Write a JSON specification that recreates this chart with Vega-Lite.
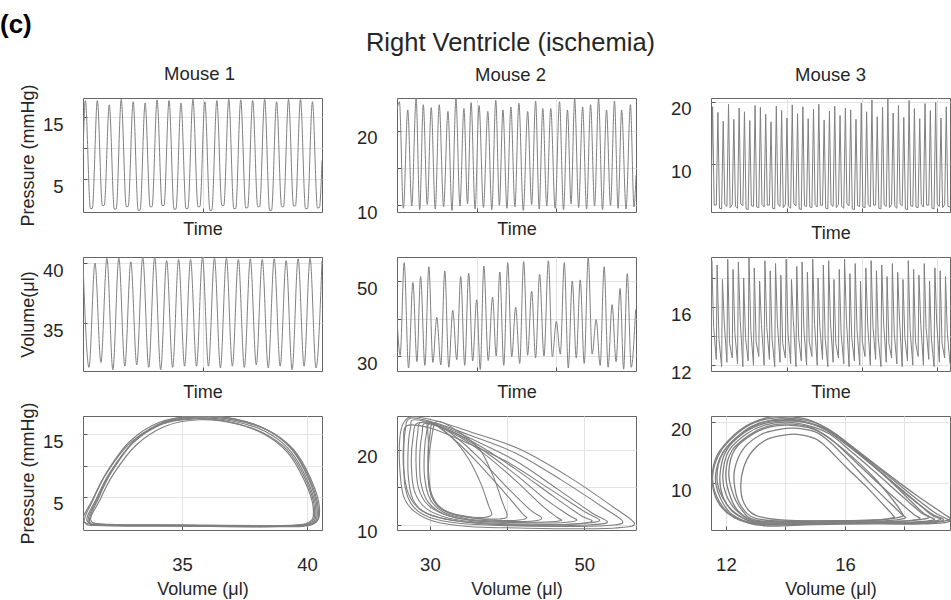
{
"$schema": "https://vega.github.io/schema/vega-lite/v6.json",
"padding": {"left": 0, "top": 11, "right": 0, "bottom": 0},
"title": {"text": "(c)", "anchor": "start", "frame": "group", "fontSize": 26, "fontWeight": "bold", "color": "#000", "dx": -83, "offset": -7},
"config": {
  "font": "Liberation Sans",
  "view": {"stroke": "#666666", "strokeWidth": 1},
  "axis": {"grid": true, "gridColor": "#e3e3e3", "domain": false, "ticks": true, "tickSize": -4, "tickColor": "#555555", "labelFontSize": 18.5, "labelColor": "#262626", "titleFontSize": 18, "titleFontWeight": "normal", "titleColor": "#262626"},
  "axisY": {"labelPadding": 24, "titlePadding": 5, "labelOffset": 7},
  "axisX": {"labelPadding": 29, "titlePadding": 7},
  "title": {"fontSize": 18.5, "fontWeight": "normal", "color": "#262626", "offset": 14},
  "line": {"stroke": "#808080", "strokeWidth": 1}
},
"datasets": {
"m1p": [{"t":0,"v":9},{"t":0.2,"v":17.7},{"t":0.62,"v":0.3},{"t":0.78,"v":0.35},{"t":1.2,"v":17.7},{"t":1.62,"v":0.8},{"t":1.78,"v":0.85},{"t":2.2,"v":17.0},{"t":2.62,"v":0.2},{"t":2.78,"v":0.25},{"t":3.2,"v":17.9},{"t":3.62,"v":0.6},{"t":3.78,"v":0.65},{"t":4.2,"v":17.5},{"t":4.62,"v":0.0},{"t":4.78,"v":0.05},{"t":5.2,"v":17.3},{"t":5.62,"v":0.6},{"t":5.78,"v":0.6},{"t":6.2,"v":17.8},{"t":6.62,"v":0.8},{"t":6.78,"v":0.8},{"t":7.2,"v":17.7},{"t":7.62,"v":0.2},{"t":7.78,"v":0.25},{"t":8.2,"v":17.3},{"t":8.62,"v":0.3},{"t":8.78,"v":0.35},{"t":9.2,"v":17.9},{"t":9.62,"v":0.6},{"t":9.78,"v":0.6},{"t":10.2,"v":17.5},{"t":10.62,"v":0.0},{"t":10.78,"v":0.05},{"t":11.2,"v":17.7},{"t":11.62,"v":0.8},{"t":11.78,"v":0.8},{"t":12.2,"v":17.9},{"t":12.62,"v":0.3},{"t":12.78,"v":0.3},{"t":13.2,"v":17.8},{"t":13.62,"v":0.4},{"t":13.78,"v":0.45},{"t":14.2,"v":17.7},{"t":14.62,"v":0.6},{"t":14.78,"v":0.6},{"t":15.2,"v":17.9},{"t":15.62,"v":0.0},{"t":15.78,"v":0.05},{"t":16.2,"v":17.5},{"t":16.62,"v":0.6},{"t":16.78,"v":0.6},{"t":17.2,"v":17.9},{"t":17.62,"v":0.7},{"t":17.78,"v":0.75},{"t":18.2,"v":17.9},{"t":18.62,"v":0.3},{"t":18.78,"v":0.3},{"t":19.2,"v":17.5},{"t":19.62,"v":0.4},{"t":19.78,"v":0.45},{"t":20,"v":8}],
"m1v": [{"t":0,"v":40.0},{"t":0.5,"v":31.3},{"t":1,"v":40.0},{"t":1.5,"v":31.7},{"t":2,"v":40.4},{"t":2.5,"v":31.1},{"t":3,"v":40.4},{"t":3.5,"v":31.4},{"t":4,"v":40.1},{"t":4.5,"v":31.5},{"t":5,"v":40.5},{"t":5.5,"v":31.3},{"t":6,"v":40.5},{"t":6.5,"v":31.1},{"t":7,"v":40.2},{"t":7.5,"v":31.3},{"t":8,"v":40.3},{"t":8.5,"v":31.4},{"t":9,"v":40.3},{"t":9.5,"v":31.4},{"t":10,"v":40.5},{"t":10.5,"v":31.4},{"t":11,"v":40.4},{"t":11.5,"v":31.25},{"t":12,"v":40.4},{"t":12.5,"v":31.4},{"t":13,"v":40.3},{"t":13.5,"v":31.3},{"t":14,"v":40.35},{"t":14.5,"v":31.5},{"t":15,"v":40.3},{"t":15.5,"v":31.25},{"t":16,"v":40.35},{"t":16.5,"v":31.4},{"t":17,"v":40.2},{"t":17.5,"v":31.1},{"t":18,"v":40.35},{"t":18.5,"v":31.4},{"t":19,"v":40.4},{"t":19.5,"v":31.25},{"t":20,"v":40.2}],
"m2p": [{"t":0,"v":22.9},{"t":0.3,"v":23.9},{"t":0.8,"v":9.6},{"t":1.35,"v":22.8},{"t":1.85,"v":9.9},{"t":2.4,"v":24.3},{"t":2.85,"v":9.4},{"t":3.3,"v":23.5},{"t":3.8,"v":10.1},{"t":4.3,"v":23.1},{"t":4.8,"v":9.5},{"t":5.3,"v":23.5},{"t":5.85,"v":9.8},{"t":6.4,"v":22.6},{"t":6.9,"v":9.3},{"t":7.4,"v":24.3},{"t":7.9,"v":9.9},{"t":8.4,"v":23.0},{"t":8.85,"v":10.2},{"t":9.3,"v":23.8},{"t":9.8,"v":9.5},{"t":10.3,"v":23.4},{"t":10.85,"v":9.7},{"t":11.4,"v":22.6},{"t":11.9,"v":9.4},{"t":12.4,"v":24.1},{"t":12.85,"v":10.0},{"t":13.3,"v":22.8},{"t":13.8,"v":9.6},{"t":14.3,"v":23.2},{"t":14.8,"v":9.8},{"t":15.3,"v":23.7},{"t":15.85,"v":9.3},{"t":16.4,"v":22.6},{"t":16.9,"v":10.1},{"t":17.4,"v":24.0},{"t":17.85,"v":9.5},{"t":18.3,"v":23.0},{"t":18.8,"v":9.9},{"t":19.3,"v":23.0},{"t":19.85,"v":9.6},{"t":20.4,"v":23.9},{"t":20.9,"v":9.4},{"t":21.4,"v":22.8},{"t":21.85,"v":10.2},{"t":22.3,"v":24.3},{"t":22.8,"v":9.7},{"t":23.3,"v":23.2},{"t":23.8,"v":9.5},{"t":24.3,"v":23.5},{"t":24.8,"v":9.9},{"t":25.3,"v":24.3},{"t":25.8,"v":9.4},{"t":26.3,"v":22.8},{"t":26.8,"v":10.0},{"t":27.3,"v":24.0},{"t":27.75,"v":9.6},{"t":28.2,"v":22.8},{"t":28.75,"v":9.5},{"t":29.3,"v":23.5},{"t":29.75,"v":9.8},{"t":30,"v":14}],
"m2v": [{"t":0,"v":40},{"t":0.4,"v":30.2},{"t":0.9,"v":54.9},{"t":1.45,"v":26.8},{"t":2.0,"v":49.6},{"t":2.5,"v":28.5},{"t":2.96,"v":51.2},{"t":3.5,"v":27.5},{"t":4.0,"v":53.8},{"t":4.5,"v":28.3},{"t":5.0,"v":40.3},{"t":5.5,"v":27.6},{"t":6.0,"v":52.7},{"t":6.5,"v":27.0},{"t":7.0,"v":42.2},{"t":7.5,"v":29.0},{"t":8.0,"v":51.2},{"t":8.5,"v":27.5},{"t":9.0,"v":52.1},{"t":9.5,"v":28.7},{"t":10.0,"v":45.0},{"t":10.45,"v":26.4},{"t":10.9,"v":54.0},{"t":11.45,"v":28.8},{"t":12.0,"v":45.7},{"t":12.45,"v":30.0},{"t":12.9,"v":52.4},{"t":13.4,"v":27.5},{"t":13.9,"v":54.9},{"t":14.4,"v":29.8},{"t":14.9,"v":43.0},{"t":15.4,"v":28.0},{"t":15.9,"v":55.2},{"t":16.4,"v":30.2},{"t":16.9,"v":47.3},{"t":17.4,"v":29.5},{"t":17.9,"v":51.8},{"t":18.45,"v":30.0},{"t":19.0,"v":55.4},{"t":19.5,"v":29.8},{"t":20.0,"v":39.2},{"t":20.5,"v":30.5},{"t":21.0,"v":54.9},{"t":21.5,"v":26.8},{"t":22.0,"v":50.0},{"t":22.5,"v":29.5},{"t":23.0,"v":50.3},{"t":23.5,"v":28.0},{"t":24.0,"v":56.3},{"t":24.5,"v":30.5},{"t":25.0,"v":39.7},{"t":25.5,"v":27.5},{"t":26.0,"v":53.8},{"t":26.5,"v":27.0},{"t":27.0,"v":43.7},{"t":27.5,"v":28.5},{"t":28.0,"v":48.0},{"t":28.45,"v":26.5},{"t":28.9,"v":52.0},{"t":29.4,"v":27.0},{"t":29.95,"v":42.4}],
"m3p": [{"t":0,"v":3.2},{"t":0.3,"v":19.2},{"t":0.6,"v":3.5},{"t":1,"v":3.5},{"t":1.3,"v":18.3},{"t":1.6,"v":3.0},{"t":2,"v":2.9},{"t":2.3,"v":16.9},{"t":2.6,"v":3.6},{"t":3,"v":3.3},{"t":3.3,"v":19.6},{"t":3.6,"v":3.1},{"t":4,"v":3.6},{"t":4.3,"v":17.2},{"t":4.6,"v":3.3},{"t":5,"v":3.0},{"t":5.3,"v":19.0},{"t":5.6,"v":3.7},{"t":6,"v":3.4},{"t":6.3,"v":18.4},{"t":6.6,"v":2.9},{"t":7,"v":2.8},{"t":7.3,"v":17.0},{"t":7.6,"v":3.4},{"t":8,"v":3.3},{"t":8.3,"v":19.4},{"t":8.6,"v":3.2},{"t":9,"v":3.1},{"t":9.3,"v":19.1},{"t":9.6,"v":3.6},{"t":10,"v":3.2},{"t":10.3,"v":18.0},{"t":10.6,"v":3.5},{"t":11,"v":3.5},{"t":11.3,"v":16.8},{"t":11.6,"v":3.0},{"t":12,"v":2.9},{"t":12.3,"v":19.3},{"t":12.6,"v":3.6},{"t":13,"v":3.3},{"t":13.3,"v":18.6},{"t":13.6,"v":3.1},{"t":14,"v":3.6},{"t":14.3,"v":17.4},{"t":14.6,"v":3.3},{"t":15,"v":3.0},{"t":15.3,"v":19.5},{"t":15.6,"v":3.7},{"t":16,"v":3.4},{"t":16.3,"v":18.1},{"t":16.6,"v":2.9},{"t":17,"v":2.8},{"t":17.3,"v":19.2},{"t":17.6,"v":3.4},{"t":18,"v":3.3},{"t":18.3,"v":17.3},{"t":18.6,"v":3.2},{"t":19,"v":3.1},{"t":19.3,"v":18.8},{"t":19.6,"v":3.6},{"t":20,"v":3.2},{"t":20.3,"v":19.6},{"t":20.6,"v":3.5},{"t":21,"v":3.5},{"t":21.3,"v":17.1},{"t":21.6,"v":3.0},{"t":22,"v":2.9},{"t":22.3,"v":18.5},{"t":22.6,"v":3.6},{"t":23,"v":3.3},{"t":23.3,"v":19.3},{"t":23.6,"v":3.1},{"t":24,"v":3.6},{"t":24.3,"v":17.8},{"t":24.6,"v":3.3},{"t":25,"v":3.0},{"t":25.3,"v":19.0},{"t":25.6,"v":3.7},{"t":26,"v":3.4},{"t":26.3,"v":18.7},{"t":26.6,"v":2.9},{"t":27,"v":2.8},{"t":27.3,"v":17.2},{"t":27.6,"v":3.4},{"t":28,"v":3.3},{"t":28.3,"v":19.8},{"t":28.6,"v":3.2},{"t":29,"v":3.1},{"t":29.3,"v":18.4},{"t":29.6,"v":3.6},{"t":30,"v":3.2},{"t":30.3,"v":20.3},{"t":30.6,"v":3.5},{"t":31,"v":3.5},{"t":31.3,"v":17.6},{"t":31.6,"v":3.0},{"t":32,"v":2.9},{"t":32.3,"v":19.1},{"t":32.6,"v":3.6},{"t":33,"v":3.3},{"t":33.3,"v":20.5},{"t":33.6,"v":3.1},{"t":34,"v":3.6},{"t":34.3,"v":18.2},{"t":34.6,"v":3.3},{"t":35,"v":3.0},{"t":35.3,"v":19.4},{"t":35.6,"v":3.7},{"t":36,"v":3.4},{"t":36.3,"v":17.5},{"t":36.6,"v":2.9},{"t":37,"v":2.8},{"t":37.3,"v":20.2},{"t":37.6,"v":3.4},{"t":38,"v":3.3},{"t":38.3,"v":18.9},{"t":38.6,"v":3.2},{"t":39,"v":3.1},{"t":39.3,"v":17.3},{"t":39.6,"v":3.6},{"t":40,"v":3.2},{"t":40.3,"v":19.7},{"t":40.6,"v":3.5},{"t":41,"v":3.5},{"t":41.3,"v":18.6},{"t":41.6,"v":3.0},{"t":42,"v":2.9},{"t":42.3,"v":19.9},{"t":42.6,"v":3.6},{"t":43,"v":3.3},{"t":43.3,"v":17.4},{"t":43.6,"v":3.1},{"t":44,"v":3.6},{"t":44.3,"v":19.2},{"t":44.6,"v":3.3},{"t":45,"v":3.2}],
"m3v": [{"t":0,"v":12.0},{"t":0.15,"v":19.2},{"t":0.5,"v":14.6},{"t":1,"v":12.4},{"t":1.15,"v":18.9},{"t":1.5,"v":13.8},{"t":2,"v":11.9},{"t":2.15,"v":17.9},{"t":2.5,"v":14.9},{"t":3,"v":12.2},{"t":3.15,"v":19.3},{"t":3.5,"v":13.5},{"t":4,"v":12.5},{"t":4.15,"v":18.6},{"t":4.5,"v":14.2},{"t":5,"v":12.1},{"t":5.15,"v":19.1},{"t":5.5,"v":15.1},{"t":6,"v":11.9},{"t":6.15,"v":18.0},{"t":6.5,"v":13.9},{"t":7,"v":12.3},{"t":7.15,"v":19.4},{"t":7.5,"v":14.4},{"t":8,"v":12.0},{"t":8.15,"v":18.7},{"t":8.5,"v":13.6},{"t":9,"v":12.6},{"t":9.15,"v":17.8},{"t":9.5,"v":14.8},{"t":10,"v":12.0},{"t":10.15,"v":19.2},{"t":10.5,"v":14.6},{"t":11,"v":12.4},{"t":11.15,"v":18.5},{"t":11.5,"v":13.8},{"t":12,"v":11.9},{"t":12.15,"v":19.0},{"t":12.5,"v":14.9},{"t":13,"v":12.2},{"t":13.15,"v":18.2},{"t":13.5,"v":13.5},{"t":14,"v":12.5},{"t":14.15,"v":19.3},{"t":14.5,"v":14.2},{"t":15,"v":12.1},{"t":15.15,"v":17.9},{"t":15.5,"v":15.1},{"t":16,"v":11.9},{"t":16.15,"v":18.8},{"t":16.5,"v":13.9},{"t":17,"v":12.3},{"t":17.15,"v":19.1},{"t":17.5,"v":14.4},{"t":18,"v":12.0},{"t":18.15,"v":18.4},{"t":18.5,"v":13.6},{"t":19,"v":12.6},{"t":19.15,"v":19.3},{"t":19.5,"v":14.8},{"t":20,"v":12.0},{"t":20.15,"v":18.0},{"t":20.5,"v":14.6},{"t":21,"v":12.4},{"t":21.15,"v":18.9},{"t":21.5,"v":13.8},{"t":22,"v":11.9},{"t":22.15,"v":19.2},{"t":22.5,"v":14.9},{"t":23,"v":12.2},{"t":23.15,"v":17.9},{"t":23.5,"v":13.5},{"t":24,"v":12.5},{"t":24.15,"v":18.6},{"t":24.5,"v":14.2},{"t":25,"v":12.1},{"t":25.15,"v":19.3},{"t":25.5,"v":15.1},{"t":26,"v":11.9},{"t":26.15,"v":18.3},{"t":26.5,"v":13.9},{"t":27,"v":12.3},{"t":27.15,"v":19.0},{"t":27.5,"v":14.4},{"t":28,"v":12.0},{"t":28.15,"v":17.8},{"t":28.5,"v":13.6},{"t":29,"v":12.6},{"t":29.15,"v":18.7},{"t":29.5,"v":14.8},{"t":30,"v":12.0},{"t":30.15,"v":19.2},{"t":30.5,"v":14.6},{"t":31,"v":12.4},{"t":31.15,"v":18.5},{"t":31.5,"v":13.8},{"t":32,"v":11.9},{"t":32.15,"v":18.9},{"t":32.5,"v":14.9},{"t":33,"v":12.2},{"t":33.15,"v":18.1},{"t":33.5,"v":13.5},{"t":34,"v":12.5},{"t":34.15,"v":19.0},{"t":34.5,"v":14.2},{"t":35,"v":12.1},{"t":35.15,"v":18.4},{"t":35.5,"v":15.1},{"t":36,"v":11.9},{"t":36.15,"v":17.9},{"t":36.5,"v":13.9},{"t":37,"v":12.3},{"t":37.15,"v":19.2},{"t":37.5,"v":14.4},{"t":38,"v":12.0},{"t":38.15,"v":18.6},{"t":38.5,"v":13.6},{"t":39,"v":12.6},{"t":39.15,"v":18.2},{"t":39.5,"v":14.8},{"t":40,"v":12.0},{"t":40.15,"v":19.0},{"t":40.5,"v":14.6},{"t":41,"v":12.4},{"t":41.15,"v":17.8},{"t":41.5,"v":13.8},{"t":42,"v":11.9},{"t":42.15,"v":18.7},{"t":42.5,"v":14.9},{"t":43,"v":12.2},{"t":43.15,"v":18.5},{"t":43.5,"v":13.5},{"t":44,"v":12.5},{"t":44.15,"v":18.1},{"t":44.5,"v":14.2},{"t":45,"v":12.1}],
"m1pv": [
{"c":1,"V":31.2,"P":1.2},{"c":1,"V":31.55,"P":4.5},{"c":1,"V":32.1,"P":8.8},{"c":1,"V":33.0,"P":13.5},{"c":1,"V":34.2,"P":16.6},{"c":1,"V":35.6,"P":17.6},{"c":1,"V":37.0,"P":17.1},{"c":1,"V":38.3,"P":15.5},{"c":1,"V":39.3,"P":12.5},{"c":1,"V":40.0,"P":7.8},{"c":1,"V":40.35,"P":3.2},{"c":1,"V":40.1,"P":0.7},{"c":1,"V":38.5,"P":0.35},{"c":1,"V":35.0,"P":0.45},{"c":1,"V":32.0,"P":0.55},
{"c":2,"V":31.1,"P":1.0},{"c":2,"V":31.45,"P":4.6},{"c":2,"V":32.0,"P":9.0},{"c":2,"V":32.9,"P":13.8},{"c":2,"V":34.1,"P":16.9},{"c":2,"V":35.6,"P":17.9},{"c":2,"V":37.1,"P":17.4},{"c":2,"V":38.4,"P":15.7},{"c":2,"V":39.4,"P":12.6},{"c":2,"V":40.1,"P":7.9},{"c":2,"V":40.45,"P":3.1},{"c":2,"V":40.2,"P":0.6},{"c":2,"V":38.5,"P":0.25},{"c":2,"V":35.0,"P":0.35},{"c":2,"V":31.9,"P":0.45},
{"c":3,"V":31.35,"P":1.3},{"c":3,"V":31.7,"P":4.4},{"c":3,"V":32.25,"P":8.6},{"c":3,"V":33.15,"P":13.2},{"c":3,"V":34.35,"P":16.3},{"c":3,"V":35.7,"P":17.3},{"c":3,"V":37.0,"P":16.8},{"c":3,"V":38.2,"P":15.2},{"c":3,"V":39.2,"P":12.2},{"c":3,"V":39.9,"P":7.6},{"c":3,"V":40.25,"P":3.3},{"c":3,"V":40.0,"P":0.8},{"c":3,"V":38.4,"P":0.45},{"c":3,"V":35.0,"P":0.55},{"c":3,"V":32.1,"P":0.65},
{"c":4,"V":31.25,"P":1.1},{"c":4,"V":31.6,"P":4.6},{"c":4,"V":32.15,"P":8.9},{"c":4,"V":33.05,"P":13.7},{"c":4,"V":34.25,"P":16.8},{"c":4,"V":35.6,"P":17.75},{"c":4,"V":37.1,"P":17.25},{"c":4,"V":38.45,"P":15.6},{"c":4,"V":39.45,"P":12.6},{"c":4,"V":40.15,"P":7.9},{"c":4,"V":40.5,"P":3.2},{"c":4,"V":40.2,"P":0.7},{"c":4,"V":38.6,"P":0.35},{"c":4,"V":35.0,"P":0.45},{"c":4,"V":32.0,"P":0.55},
{"c":5,"V":31.05,"P":1.25},{"c":5,"V":31.4,"P":4.4},{"c":5,"V":31.95,"P":8.6},{"c":5,"V":32.85,"P":13.3},{"c":5,"V":34.05,"P":16.45},{"c":5,"V":35.5,"P":17.45},{"c":5,"V":36.9,"P":16.95},{"c":5,"V":38.2,"P":15.3},{"c":5,"V":39.25,"P":12.3},{"c":5,"V":39.95,"P":7.7},{"c":5,"V":40.3,"P":3.2},{"c":5,"V":40.05,"P":0.75},{"c":5,"V":38.5,"P":0.4},{"c":5,"V":35.0,"P":0.5},{"c":5,"V":31.9,"P":0.6},
{"c":6,"V":31.3,"P":1.1},{"c":6,"V":31.65,"P":4.7},{"c":6,"V":32.2,"P":9.1},{"c":6,"V":33.1,"P":13.9},{"c":6,"V":34.3,"P":17.0},{"c":6,"V":35.7,"P":17.95},{"c":6,"V":37.1,"P":17.45},{"c":6,"V":38.35,"P":15.8},{"c":6,"V":39.35,"P":12.8},{"c":6,"V":40.05,"P":8.0},{"c":6,"V":40.4,"P":3.3},{"c":6,"V":40.15,"P":0.65},{"c":6,"V":38.5,"P":0.3},{"c":6,"V":35.0,"P":0.4},{"c":6,"V":32.0,"P":0.5}],
"m2pv": [
{"c":1,"V":27.8,"P":24.4},{"c":1,"V":31,"P":23.8},{"c":1,"V":35.2,"P":22.4},{"c":1,"V":41.6,"P":20.1},{"c":1,"V":48,"P":16.4},{"c":1,"V":53.6,"P":12.5},{"c":1,"V":56.5,"P":10.2},{"c":1,"V":54,"P":9.6},{"c":1,"V":48,"P":9.5},{"c":1,"V":41.6,"P":9.6},{"c":1,"V":35,"P":9.8},{"c":1,"V":30.5,"P":10.5},{"c":1,"V":28.0,"P":11.8},{"c":1,"V":26.6,"P":13.8},{"c":1,"V":26.1,"P":17.5},{"c":1,"V":26.1,"P":21.5},{"c":1,"V":26.6,"P":23.6},
{"c":2,"V":27.5,"P":24.2},{"c":2,"V":31,"P":23.5},{"c":2,"V":35,"P":22.0},{"c":2,"V":41,"P":19.6},{"c":2,"V":47,"P":16.0},{"c":2,"V":52.5,"P":12.3},{"c":2,"V":55,"P":10.4},{"c":2,"V":52.5,"P":9.9},{"c":2,"V":46,"P":9.8},{"c":2,"V":40,"P":9.9},{"c":2,"V":34,"P":10.2},{"c":2,"V":30,"P":11.0},{"c":2,"V":27.8,"P":12.5},{"c":2,"V":26.8,"P":15},{"c":2,"V":26.6,"P":19},{"c":2,"V":26.8,"P":22.5},
{"c":3,"V":28,"P":24.0},{"c":3,"V":31.5,"P":23.2},{"c":3,"V":35.5,"P":21.4},{"c":3,"V":41,"P":18.6},{"c":3,"V":46.5,"P":14.8},{"c":3,"V":51,"P":11.6},{"c":3,"V":53,"P":10.4},{"c":3,"V":50.5,"P":10.0},{"c":3,"V":44,"P":9.9},{"c":3,"V":38,"P":10.1},{"c":3,"V":33,"P":10.6},{"c":3,"V":29.5,"P":11.6},{"c":3,"V":27.8,"P":13.4},{"c":3,"V":27.2,"P":16.5},{"c":3,"V":27.2,"P":20.5},{"c":3,"V":27.5,"P":23},
{"c":4,"V":28.5,"P":23.6},{"c":4,"V":32,"P":22.8},{"c":4,"V":36,"P":20.8},{"c":4,"V":41,"P":17.5},{"c":4,"V":46,"P":13.8},{"c":4,"V":49.5,"P":11.3},{"c":4,"V":51,"P":10.5},{"c":4,"V":48.5,"P":10.1},{"c":4,"V":43,"P":10.1},{"c":4,"V":37,"P":10.3},{"c":4,"V":32.5,"P":10.9},{"c":4,"V":29.5,"P":12.2},{"c":4,"V":28,"P":14.5},{"c":4,"V":27.6,"P":18},{"c":4,"V":27.8,"P":21.5},
{"c":5,"V":29,"P":23.7},{"c":5,"V":32.5,"P":22.6},{"c":5,"V":36.5,"P":20.2},{"c":5,"V":41,"P":16.8},{"c":5,"V":45,"P":13.4},{"c":5,"V":48,"P":11.3},{"c":5,"V":49,"P":10.6},{"c":5,"V":47,"P":10.3},{"c":5,"V":42,"P":10.3},{"c":5,"V":36.5,"P":10.5},{"c":5,"V":32.5,"P":11.2},{"c":5,"V":29.8,"P":12.6},{"c":5,"V":28.5,"P":15},{"c":5,"V":28.2,"P":18.5},{"c":5,"V":28.4,"P":22},
{"c":6,"V":29.5,"P":23.5},{"c":6,"V":33,"P":22.2},{"c":6,"V":37,"P":19.5},{"c":6,"V":41,"P":16},{"c":6,"V":44.5,"P":12.6},{"c":6,"V":46.5,"P":11.0},{"c":6,"V":47,"P":10.6},{"c":6,"V":45,"P":10.4},{"c":6,"V":40,"P":10.4},{"c":6,"V":35.5,"P":10.6},{"c":6,"V":32,"P":11.4},{"c":6,"V":29.8,"P":13.0},{"c":6,"V":28.8,"P":15.8},{"c":6,"V":28.7,"P":19.5},{"c":6,"V":29,"P":22.2},
{"c":7,"V":30,"P":23.7},{"c":7,"V":33,"P":22.0},{"c":7,"V":36.5,"P":18.8},{"c":7,"V":40,"P":15.0},{"c":7,"V":43,"P":12.0},{"c":7,"V":44.5,"P":10.9},{"c":7,"V":43,"P":10.5},{"c":7,"V":39,"P":10.5},{"c":7,"V":35,"P":10.8},{"c":7,"V":31.8,"P":11.7},{"c":7,"V":30,"P":13.5},{"c":7,"V":29.3,"P":16.5},{"c":7,"V":29.3,"P":20},{"c":7,"V":29.6,"P":22.5},
{"c":8,"V":30,"P":23.6},{"c":8,"V":33,"P":21.5},{"c":8,"V":36,"P":18.5},{"c":8,"V":39.5,"P":14.5},{"c":8,"V":42,"P":11.5},{"c":8,"V":42.5,"P":10.9},{"c":8,"V":41,"P":10.6},{"c":8,"V":37.5,"P":10.7},{"c":8,"V":34,"P":11.2},{"c":8,"V":31.5,"P":12.2},{"c":8,"V":30.2,"P":14.2},{"c":8,"V":29.8,"P":17.5},{"c":8,"V":29.8,"P":21},
{"c":9,"V":31,"P":23.8},{"c":9,"V":34,"P":22.2},{"c":9,"V":36.5,"P":20.0},{"c":9,"V":38.2,"P":16.5},{"c":9,"V":39.4,"P":13.0},{"c":9,"V":40,"P":11.2},{"c":9,"V":39,"P":10.8},{"c":9,"V":36,"P":10.9},{"c":9,"V":33,"P":11.4},{"c":9,"V":31,"P":12.5},{"c":9,"V":30,"P":14.5},{"c":9,"V":29.8,"P":17.8},{"c":9,"V":30.2,"P":21.5},
{"c":10,"V":30.5,"P":23.4},{"c":10,"V":33,"P":21.5},{"c":10,"V":35,"P":18.8},{"c":10,"V":36.6,"P":15.5},{"c":10,"V":37.6,"P":12.6},{"c":10,"V":38,"P":11.4},{"c":10,"V":37,"P":11.0},{"c":10,"V":34.5,"P":11.2},{"c":10,"V":32,"P":11.9},{"c":10,"V":30.4,"P":13.5},{"c":10,"V":29.8,"P":16},{"c":10,"V":29.8,"P":19.5},{"c":10,"V":30,"P":22},
{"c":11,"V":27,"P":23.2},{"c":11,"V":30,"P":22.9},{"c":11,"V":34,"P":21.3},{"c":11,"V":40,"P":18.4},{"c":11,"V":45.5,"P":14.8},{"c":11,"V":50,"P":11.8},{"c":11,"V":52,"P":10.6},{"c":11,"V":49.5,"P":10.2},{"c":11,"V":43,"P":10.0},{"c":11,"V":37,"P":10.2},{"c":11,"V":32,"P":10.8},{"c":11,"V":28.8,"P":12.0},{"c":11,"V":27.2,"P":14.2},{"c":11,"V":26.6,"P":17.5},{"c":11,"V":26.6,"P":21}],
"m3pv": [
{"c":1,"V":13.6,"P":20.9},{"c":1,"V":14.6,"P":20.6},{"c":1,"V":15.3,"P":19.2},{"c":1,"V":16.2,"P":16.0},{"c":1,"V":17.2,"P":12.2},{"c":1,"V":18.2,"P":8.2},{"c":1,"V":19.0,"P":5.2},{"c":1,"V":19.5,"P":3.7},{"c":1,"V":18.6,"P":3.3},{"c":1,"V":17.0,"P":3.3},{"c":1,"V":15.0,"P":3.2},{"c":1,"V":13.3,"P":3.0},{"c":1,"V":12.3,"P":4.3},{"c":1,"V":11.8,"P":6.8},{"c":1,"V":11.55,"P":10.5},{"c":1,"V":11.7,"P":14.5},{"c":1,"V":12.3,"P":18.0},{"c":1,"V":12.9,"P":19.9},
{"c":2,"V":13.8,"P":20.5},{"c":2,"V":14.7,"P":20.0},{"c":2,"V":15.4,"P":18.6},{"c":2,"V":16.3,"P":15.4},{"c":2,"V":17.2,"P":11.8},{"c":2,"V":18.1,"P":8.0},{"c":2,"V":18.9,"P":5.0},{"c":2,"V":19.3,"P":3.9},{"c":2,"V":18.4,"P":3.5},{"c":2,"V":16.8,"P":3.5},{"c":2,"V":14.8,"P":3.4},{"c":2,"V":13.2,"P":3.3},{"c":2,"V":12.4,"P":4.8},{"c":2,"V":11.9,"P":7.5},{"c":2,"V":11.7,"P":11},{"c":2,"V":11.9,"P":15},{"c":2,"V":12.5,"P":18},{"c":2,"V":13.1,"P":19.7},
{"c":3,"V":14.0,"P":20.0},{"c":3,"V":14.8,"P":19.4},{"c":3,"V":15.5,"P":18.0},{"c":3,"V":16.3,"P":14.8},{"c":3,"V":17.2,"P":11.0},{"c":3,"V":18.0,"P":7.5},{"c":3,"V":18.6,"P":5.0},{"c":3,"V":19.0,"P":4.0},{"c":3,"V":18.2,"P":3.6},{"c":3,"V":16.6,"P":3.6},{"c":3,"V":14.6,"P":3.5},{"c":3,"V":13.1,"P":3.6},{"c":3,"V":12.4,"P":5.3},{"c":3,"V":12.0,"P":8.2},{"c":3,"V":11.9,"P":11.5},{"c":3,"V":12.1,"P":15.3},{"c":3,"V":12.7,"P":18.1},{"c":3,"V":13.3,"P":19.5},
{"c":4,"V":14.1,"P":19.5},{"c":4,"V":14.9,"P":18.9},{"c":4,"V":15.5,"P":17.3},{"c":4,"V":16.2,"P":14.2},{"c":4,"V":17.0,"P":10.5},{"c":4,"V":17.8,"P":7.0},{"c":4,"V":18.3,"P":4.9},{"c":4,"V":18.5,"P":4.1},{"c":4,"V":17.8,"P":3.7},{"c":4,"V":16.3,"P":3.7},{"c":4,"V":14.4,"P":3.6},{"c":4,"V":13.0,"P":3.9},{"c":4,"V":12.5,"P":5.8},{"c":4,"V":12.2,"P":8.8},{"c":4,"V":12.1,"P":12},{"c":4,"V":12.3,"P":15.5},{"c":4,"V":12.9,"P":18.0},{"c":4,"V":13.5,"P":19.2},
{"c":5,"V":14.3,"P":19.0},{"c":5,"V":15.0,"P":18.4},{"c":5,"V":15.5,"P":16.7},{"c":5,"V":16.1,"P":13.8},{"c":5,"V":16.8,"P":10.2},{"c":5,"V":17.5,"P":6.8},{"c":5,"V":17.9,"P":4.9},{"c":5,"V":18.0,"P":4.2},{"c":5,"V":17.3,"P":3.8},{"c":5,"V":15.8,"P":3.8},{"c":5,"V":14.2,"P":3.7},{"c":5,"V":13.0,"P":4.2},{"c":5,"V":12.5,"P":6.3},{"c":5,"V":12.3,"P":9.2},{"c":5,"V":12.3,"P":12.4},{"c":5,"V":12.6,"P":15.7},{"c":5,"V":13.2,"P":18.0},{"c":5,"V":13.8,"P":18.8},
{"c":6,"V":14.4,"P":18.0},{"c":6,"V":15.0,"P":17.3},{"c":6,"V":15.4,"P":15.8},{"c":6,"V":16.0,"P":12.8},{"c":6,"V":16.7,"P":9.5},{"c":6,"V":17.3,"P":6.4},{"c":6,"V":17.6,"P":4.8},{"c":6,"V":17.6,"P":4.3},{"c":6,"V":16.9,"P":3.9},{"c":6,"V":15.4,"P":3.8},{"c":6,"V":14.0,"P":3.9},{"c":6,"V":13.0,"P":4.7},{"c":6,"V":12.6,"P":6.8},{"c":6,"V":12.5,"P":9.5},{"c":6,"V":12.6,"P":12.6},{"c":6,"V":12.9,"P":15.3},{"c":6,"V":13.4,"P":17.2},{"c":6,"V":14.0,"P":17.9},
{"c":7,"V":13.7,"P":20.7},{"c":7,"V":14.7,"P":20.3},{"c":7,"V":15.4,"P":19.0},{"c":7,"V":16.3,"P":15.8},{"c":7,"V":17.3,"P":12.0},{"c":7,"V":18.4,"P":8.0},{"c":7,"V":19.3,"P":5.0},{"c":7,"V":19.5,"P":4.0},{"c":7,"V":18.6,"P":3.4},{"c":7,"V":17.0,"P":3.4},{"c":7,"V":15.0,"P":3.3},{"c":7,"V":13.2,"P":3.2},{"c":7,"V":12.2,"P":4.6},{"c":7,"V":11.7,"P":7.2},{"c":7,"V":11.55,"P":11},{"c":7,"V":11.8,"P":15},{"c":7,"V":12.4,"P":18.2},{"c":7,"V":13.0,"P":20.0},
{"c":8,"V":14.2,"P":20.2},{"c":8,"V":15.0,"P":19.6},{"c":8,"V":15.7,"P":18.0},{"c":8,"V":16.5,"P":14.8},{"c":8,"V":17.4,"P":11.0},{"c":8,"V":18.3,"P":7.3},{"c":8,"V":18.9,"P":4.8},{"c":8,"V":19.2,"P":4.0},{"c":8,"V":18.3,"P":3.5},{"c":8,"V":16.7,"P":3.4},{"c":8,"V":14.7,"P":3.4},{"c":8,"V":13.1,"P":3.5},{"c":8,"V":12.3,"P":5.0},{"c":8,"V":11.9,"P":7.8},{"c":8,"V":11.8,"P":11.2},{"c":8,"V":12.0,"P":15.2},{"c":8,"V":12.6,"P":18.2},{"c":8,"V":13.3,"P":19.8},
{"c":9,"V":13.9,"P":20.3},{"c":9,"V":14.8,"P":19.8},{"c":9,"V":15.5,"P":18.3},{"c":9,"V":16.4,"P":15.0},{"c":9,"V":17.3,"P":11.3},{"c":9,"V":18.1,"P":7.6},{"c":9,"V":18.6,"P":5.2},{"c":9,"V":18.8,"P":4.3},{"c":9,"V":18.0,"P":3.8},{"c":9,"V":16.4,"P":3.6},{"c":9,"V":14.5,"P":3.5},{"c":9,"V":13.0,"P":3.4},{"c":9,"V":12.2,"P":4.9},{"c":9,"V":11.8,"P":7.7},{"c":9,"V":11.65,"P":11.1},{"c":9,"V":11.9,"P":15.0},{"c":9,"V":12.5,"P":18.1},{"c":9,"V":13.1,"P":19.8},
{"c":10,"V":14.0,"P":19.7},{"c":10,"V":14.8,"P":19.2},{"c":10,"V":15.4,"P":17.6},{"c":10,"V":16.2,"P":14.5},{"c":10,"V":17.0,"P":10.8},{"c":10,"V":17.6,"P":7.3},{"c":10,"V":17.9,"P":5.2},{"c":10,"V":17.9,"P":4.5},{"c":10,"V":17.2,"P":4.0},{"c":10,"V":15.7,"P":3.8},{"c":10,"V":14.2,"P":3.7},{"c":10,"V":13.0,"P":3.7},{"c":10,"V":12.4,"P":5.5},{"c":10,"V":12.1,"P":8.5},{"c":10,"V":12.0,"P":11.8},{"c":10,"V":12.2,"P":15.3},{"c":10,"V":12.8,"P":17.9},{"c":10,"V":13.4,"P":19.3}]
},
"columns": 3,
"bounds": "flush",
"spacing": {"row": 45, "column": 75},
"concat": [
{"width": 239, "height": 114, "title": {"text": "Mouse 1", "offset": 0, "dx": -3}, "data": {"name": "m1p"},
 "mark": {"type": "line", "interpolate": "monotone", "clip": true},
 "encoding": {
  "x": {"field": "t", "type": "quantitative", "scale": {"domain": [0, 20], "nice": false, "zero": false}, "axis": {"values": [10], "labels": false, "title": "Time", "titlePadding": 8}},
  "y": {"field": "v", "type": "quantitative", "scale": {"domain": [-0.24, 18.1], "nice": false, "zero": false}, "axis": {"values": [5, 10, 15], "labelExpr": "datum.value == 10 ? '' : datum.label", "title": "Pressure (mmHg)"}}}},
{"width": 239, "height": 114, "title": {"text": "Right Ventricle (ischemia)", "subtitle": "Mouse 2", "fontSize": 25.5, "subtitleFontSize": 18.5, "subtitleColor": "#262626", "subtitlePadding": 9, "dx": -6}, "data": {"name": "m2p"},
 "mark": {"type": "line", "interpolate": "monotone", "clip": true},
 "encoding": {
  "x": {"field": "t", "type": "quantitative", "scale": {"domain": [0, 30], "nice": false, "zero": false}, "axis": {"values": [10, 20], "labels": false, "title": "Time", "titlePadding": 8}},
  "y": {"field": "v", "type": "quantitative", "scale": {"domain": [9.1, 24.4], "nice": false, "zero": false}, "axis": {"values": [10, 15, 20], "labelExpr": "datum.value == 15 ? '' : datum.label", "title": null}}}},
{"width": 239, "height": 114, "title": "Mouse 3", "data": {"name": "m3p"},
 "mark": {"type": "line", "interpolate": "linear", "clip": true},
 "encoding": {
  "x": {"field": "t", "type": "quantitative", "scale": {"domain": [0, 45], "nice": false, "zero": false}, "axis": {"values": [14.3, 28.4, 42.5], "labels": false, "title": "Time", "titlePadding": 12}},
  "y": {"field": "v", "type": "quantitative", "scale": {"domain": [2.4, 20.6], "nice": false, "zero": false}, "axis": {"values": [10, 20], "title": null}}}},
{"width": 239, "height": 114, "data": {"name": "m1v"},
 "mark": {"type": "line", "interpolate": "monotone", "clip": true},
 "encoding": {
  "x": {"field": "t", "type": "quantitative", "scale": {"domain": [0, 20], "nice": false, "zero": false}, "axis": {"values": [10], "labels": false, "title": "Time", "titlePadding": 12}},
  "y": {"field": "v", "type": "quantitative", "scale": {"domain": [31, 40.5], "nice": false, "zero": false}, "axis": {"values": [35, 40], "title": "Volume(μl)"}}}},
{"width": 239, "height": 114, "data": {"name": "m2v"},
 "mark": {"type": "line", "interpolate": "monotone", "clip": true},
 "encoding": {
  "x": {"field": "t", "type": "quantitative", "scale": {"domain": [0, 30], "nice": false, "zero": false}, "axis": {"values": [10, 20], "labels": false, "title": "Time", "titlePadding": 12}},
  "y": {"field": "v", "type": "quantitative", "scale": {"domain": [26, 56.4], "nice": false, "zero": false}, "axis": {"values": [30, 40, 50], "labelExpr": "datum.value == 40 ? '' : datum.label", "title": null}}}},
{"width": 239, "height": 114, "data": {"name": "m3v"},
 "mark": {"type": "line", "interpolate": "linear", "clip": true},
 "encoding": {
  "x": {"field": "t", "type": "quantitative", "scale": {"domain": [0, 45], "nice": false, "zero": false}, "axis": {"values": [14.3, 28.4, 42.5], "labels": false, "title": "Time", "titlePadding": 12}},
  "y": {"field": "v", "type": "quantitative", "scale": {"domain": [11.6, 19.45], "nice": false, "zero": false}, "axis": {"values": [12, 14, 16, 18], "labelExpr": "datum.value == 12 || datum.value == 16 ? datum.label : ''", "title": null}}}},
{"width": 239, "height": 114, "data": {"name": "m1pv"},
 "mark": {"type": "line", "interpolate": "cardinal-closed", "clip": true, "strokeWidth": 1.2},
 "encoding": {
  "x": {"field": "V", "type": "quantitative", "scale": {"domain": [31.04, 40.6], "nice": false, "zero": false}, "axis": {"values": [35, 40], "title": "Volume (μl)"}},
  "y": {"field": "P", "type": "quantitative", "scale": {"domain": [-0.26, 17.9], "nice": false, "zero": false}, "axis": {"values": [5, 10, 15], "labelExpr": "datum.value == 10 ? '' : datum.label", "title": "Pressure (mmHg)"}},
  "detail": {"field": "c", "type": "nominal"},
  "order": {"value": null}}},
{"width": 239, "height": 114, "data": {"name": "m2pv"},
 "mark": {"type": "line", "interpolate": "cardinal-closed", "clip": true, "strokeWidth": 1.1},
 "encoding": {
  "x": {"field": "V", "type": "quantitative", "scale": {"domain": [25.74, 56.7], "nice": false, "zero": false}, "axis": {"values": [30, 40, 50], "labelExpr": "datum.value == 40 ? '' : datum.label", "title": "Volume (μl)"}},
  "y": {"field": "P", "type": "quantitative", "scale": {"domain": [9.33, 24.5], "nice": false, "zero": false}, "axis": {"values": [10, 15, 20], "labelExpr": "datum.value == 15 ? '' : datum.label", "title": null}},
  "detail": {"field": "c", "type": "nominal"},
  "order": {"value": null}}},
{"width": 239, "height": 114, "data": {"name": "m3pv"},
 "mark": {"type": "line", "interpolate": "cardinal-closed", "clip": true, "strokeWidth": 1.3},
 "encoding": {
  "x": {"field": "V", "type": "quantitative", "scale": {"domain": [11.5, 19.53], "nice": false, "zero": false}, "axis": {"values": [12, 14, 16, 18], "labelExpr": "datum.value == 12 || datum.value == 16 ? datum.label : ''", "title": "Volume (μl)"}},
  "y": {"field": "P", "type": "quantitative", "scale": {"domain": [2.3, 21], "nice": false, "zero": false}, "axis": {"values": [10, 20], "title": null}},
  "detail": {"field": "c", "type": "nominal"},
  "order": {"value": null}}}
]
}
